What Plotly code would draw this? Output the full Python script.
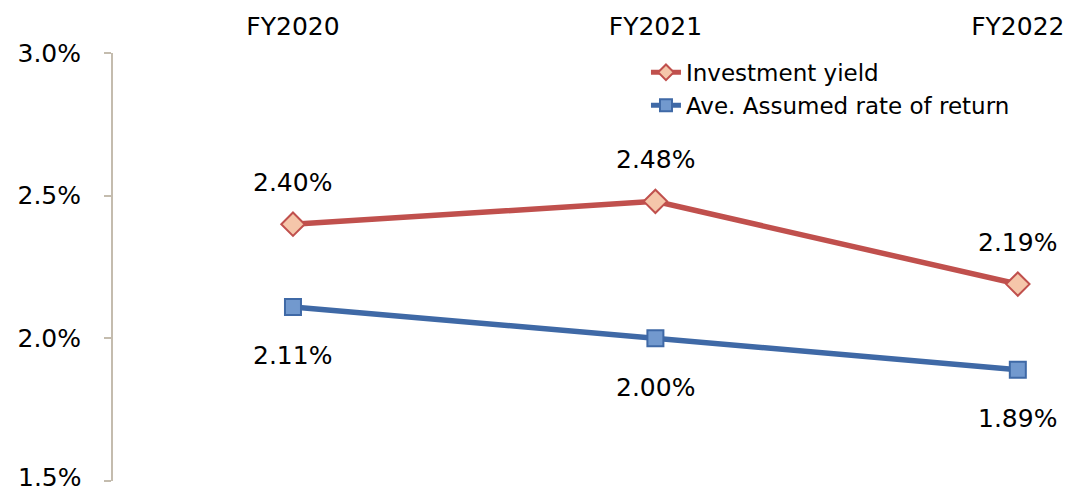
import plotly.graph_objects as go

categories = ["FY2020", "FY2021", "FY2022"]
investment_yield = [2.40, 2.48, 2.19]
assumed_rate = [2.11, 2.00, 1.89]
y_ticks = [1.5, 2.0, 2.5, 3.0]
y_tick_labels = ["1.5%", "2.0%", "2.5%", "3.0%"]

FONT = "DejaVu Sans"
xpos = list(range(len(categories)))

fig = go.Figure()
fig.add_trace(go.Scatter(
    x=xpos, y=investment_yield, name="Investment yield",
    mode="lines+markers",
    line=dict(color="#C0504D", width=5.5),
    marker=dict(symbol="diamond", size=18, color="#F5C6AA",
                line=dict(color="#C0504D", width=2)),
))
fig.add_trace(go.Scatter(
    x=xpos, y=assumed_rate, name="Ave. Assumed rate of return",
    mode="lines+markers",
    line=dict(color="#3F69A6", width=5.5),
    marker=dict(symbol="square", size=16, color="#7299CE",
                line=dict(color="#3F69A6", width=2)),
))

for xi, v in zip(xpos, investment_yield):
    fig.add_annotation(x=xi, y=v, text=f"{v:.2f}%", showarrow=False,
                       xanchor="center", yanchor="middle", yshift=42,
                       font=dict(family=FONT, size=25, color="#000000"))
for xi, v in zip(xpos, assumed_rate):
    fig.add_annotation(x=xi, y=v, text=f"{v:.2f}%", showarrow=False,
                       xanchor="center", yanchor="middle", yshift=-49,
                       font=dict(family=FONT, size=25, color="#000000"))

# lowest tick label drawn as annotation, nudged up so it stays inside the page
shown_tick_text = [""] + y_tick_labels[1:]
fig.add_annotation(xref="paper", x=0, y=y_ticks[0], text=y_tick_labels[0],
                   showarrow=False, xanchor="right", yanchor="middle",
                   xshift=-29, yshift=4,
                   font=dict(family=FONT, size=25, color="#000000"))

fig.update_layout(
    width=1066, height=484,
    margin=dict(l=105, r=0, t=45, b=11, autoexpand=False),
    paper_bgcolor="white", plot_bgcolor="white",
    font=dict(family=FONT, size=25, color="#000000"),
    showlegend=True,
    legend=dict(x=0.5546, y=1.005, xanchor="left", yanchor="top",
                bgcolor="rgba(0,0,0,0)", font=dict(family=FONT, size=23),
                itemsizing="constant", tracegroupgap=0),
    xaxis=dict(
        side="top", range=[-0.4966, 2.155], automargin=False,
        tickmode="array", tickvals=xpos, ticktext=categories,
        showgrid=False, zeroline=False, showline=False, ticks="",
        ticklabelstandoff=12, ticklabeloverflow="allow",
        tickfont=dict(family=FONT, size=25),
    ),
    yaxis=dict(
        range=[1.5, 3.0], tickmode="array", tickvals=y_ticks, ticktext=shown_tick_text,
        automargin=False, ticklabeloverflow="allow",
        showgrid=False, zeroline=False, showline=True, linecolor="#C4BCAE", linewidth=2,
        ticks="outside", ticklen=7, tickcolor="#C4BCAE", tickwidth=2,
        ticklabelstandoff=18,
        tickfont=dict(family=FONT, size=25),
    ),
)
fig.update_traces(cliponaxis=False)

fig.write_html("out.html")
